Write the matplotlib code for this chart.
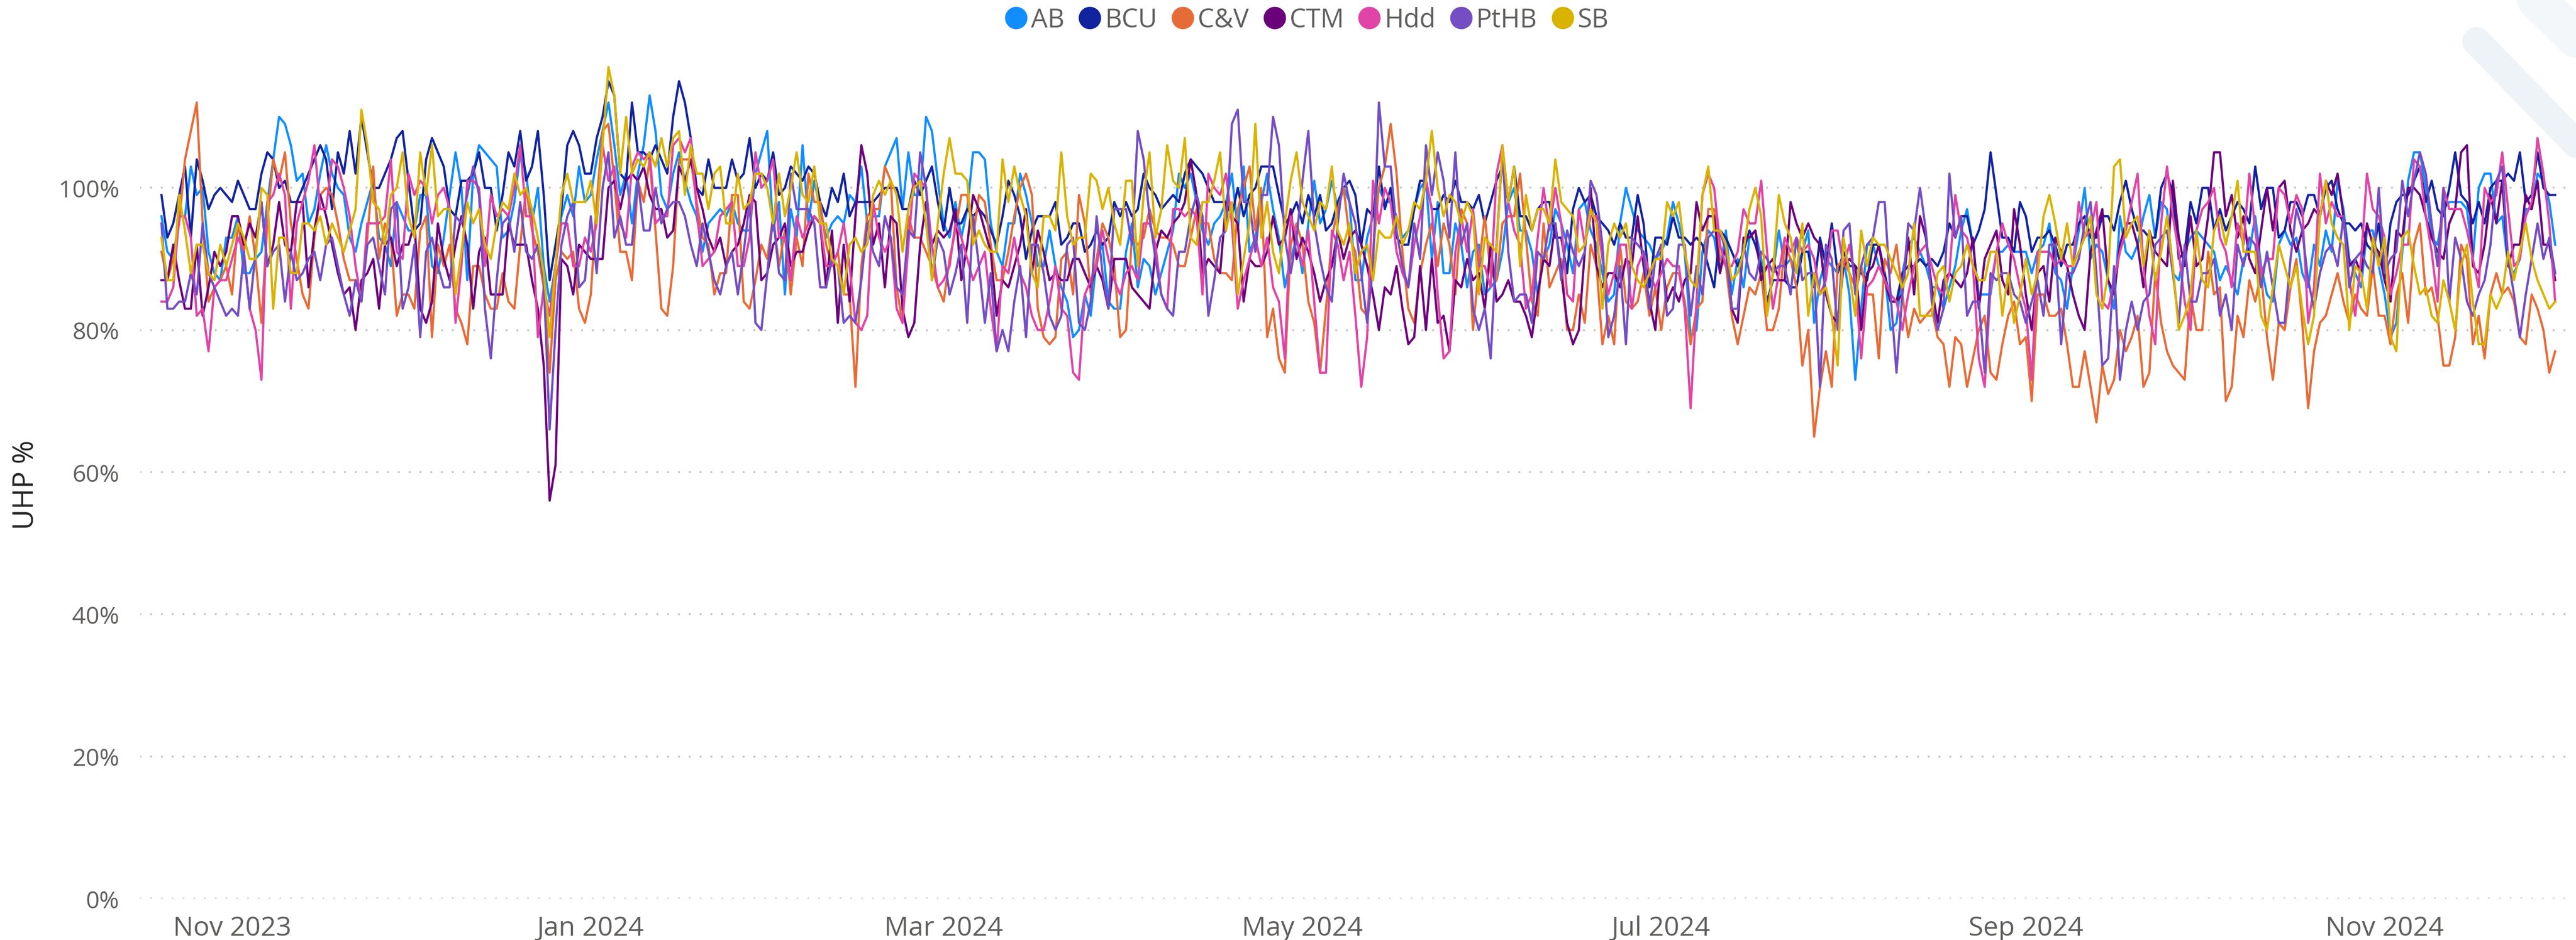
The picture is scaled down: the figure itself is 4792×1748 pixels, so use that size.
import pandas as pd
import matplotlib
matplotlib.use("Agg")
import matplotlib.pyplot as plt
import matplotlib.dates as mdates
from matplotlib.lines import Line2D
from matplotlib.ticker import FuncFormatter

plt.rcParams['font.family'] = ['Open Sans', 'DejaVu Sans']

# daily UHP % per site, starting 20 Oct 2023
start_date = "2023-10-20"
series_names = ["AB", "BCU", "C&V", "CTM", "Hdd", "PtHB", "SB"]
series_colors = ["#118DFF", "#12239E", "#E66C37", "#6B007B", "#E044A7", "#744EC2", "#D9B300"]

ab = [
    96, 91, 90, 96, 96, 103, 99, 100, 91, 88, 87, 93, 93, 96, 88, 88, 90, 91, 98, 104,
    110, 109, 106, 101, 102, 95, 97, 102, 106, 102, 100, 99, 93, 91, 95, 98, 101, 93, 92, 89,
    98, 96, 94, 94, 99, 99, 89, 88, 93, 99, 105, 100, 87, 102, 106, 105, 104, 103, 93, 94,
    98, 105, 102, 95, 100, 89, 84, 89,
    96, 99, 96, 103, 98, 99, 104, 108, 112, 106, 99, 102, 95, 102, 106, 113, 108, 99, 97, 102,
    105, 101, 98, 96, 91, 95, 96, 97, 96, 98, 95, 94, 94, 102, 105, 108, 94, 98, 85, 97,
    93, 106, 95, 101, 97, 93, 95, 96, 95, 99, 98, 103, 95, 96, 96, 103, 105, 107, 97, 105,
    99, 99, 110, 108, 101, 95, 93, 98, 93, 97, 105,
    105, 104, 95, 91, 89, 95, 95, 102, 99, 95, 89, 89, 94, 89, 86, 84, 79, 80, 85, 82,
    90, 92, 84, 83, 83, 91, 95, 86, 90, 89, 85, 88, 91, 94, 102, 100, 102, 98, 94, 92,
    95, 96, 98, 102, 94, 103, 91, 93, 98, 102, 97, 93, 86, 90, 93, 88, 95, 101, 95, 97,
    101, 97, 100, 98, 87, 87, 93, 96, 100, 98,
    98, 96, 93, 94, 97, 100, 101, 90, 98, 88, 88, 95, 92, 86, 91, 92, 85, 86, 87, 91,
    98, 100, 94, 94, 91, 85, 90, 92, 97, 95, 92, 88, 97, 98, 94, 92, 88, 84, 85, 95,
    100, 97, 94, 93, 92, 90, 91, 93, 98, 95, 91, 79, 80, 91, 94, 93, 88, 94, 85, 90,
    86, 93, 94, 90, 83, 88, 94, 89, 90, 88, 91,
    94, 81, 87, 90, 89, 88, 90, 85, 73, 83, 92, 92, 89, 88, 80, 81, 88, 92, 93, 91,
    89, 86, 86, 83, 86, 89, 94, 97, 92, 85, 85, 85, 91, 91, 92, 91, 91, 91, 88, 91,
    92, 95, 88, 87, 83, 89, 94, 100, 90, 92, 91, 87, 83, 96, 91, 90, 92, 96, 99, 93,
    98, 97, 88, 87, 91, 93, 94,
    93, 92, 91, 87, 89, 87, 85, 90, 91, 96, 89, 85, 84, 92, 94, 92, 93, 88, 86, 92,
    89, 94, 91, 101, 97, 90, 88, 86, 94, 94, 89, 85, 79, 81, 91, 101, 105, 105, 100, 93,
    92, 97, 98, 98, 98, 97, 90, 100, 102, 102, 95, 96, 89, 88, 90, 97, 97, 102, 101, 98,
    92,
]

bcu = [
    99, 93, 95, 99, 103, 93, 104, 101, 97, 99, 100, 99, 98, 101, 99, 97, 97, 102, 105, 104,
    100, 101, 98, 98, 100, 102, 104, 106, 104, 97, 105, 102, 108, 102, 110, 105, 100, 100, 102, 104,
    107, 108, 101, 94, 95, 104, 107, 105, 103, 97, 96, 101, 101, 102, 105, 100, 100, 94, 99, 105,
    103, 108, 101, 103, 108, 99, 87, 92,
    97, 106, 108, 106, 102, 102, 107, 110, 115, 113, 102, 101, 112, 105, 105, 104, 106, 104, 102, 110,
    115, 112, 107, 100, 99, 104, 100, 100, 100, 104, 101, 102, 107, 100, 102, 101, 105, 99, 100, 103,
    102, 101, 103, 102, 98, 96, 100, 98, 102, 96, 98, 98, 98, 98, 99, 100, 100, 100, 97, 97,
    101, 99, 101, 103, 98, 94, 100, 95, 95, 97, 96,
    97, 96, 94, 92, 96, 101, 99, 96, 90, 94, 96, 96, 96, 98, 92, 93, 95, 95, 91, 92,
    94, 92, 93, 98, 96, 98, 96, 97, 102, 100, 99, 97, 98, 99, 98, 102, 104, 103, 102, 100,
    98, 98, 98, 96, 100, 96, 99, 100, 103, 103, 103, 99, 95, 96, 98, 95, 99, 96, 99, 94,
    95, 98, 100, 101, 99, 92, 97, 96, 103, 97,
    100, 93, 92, 92, 97, 101, 101, 97, 97, 99, 98, 101, 98, 98, 97, 99, 95, 98, 101, 103,
    98, 103, 96, 96, 94, 97, 98, 98, 93, 93, 88, 97, 100, 98, 99, 96, 95, 94, 92, 95,
    93, 93, 99, 95, 86, 93, 93, 92, 96, 93, 93, 92, 93, 92, 89, 86, 94, 93, 91, 89,
    91, 94, 92, 89, 84, 87, 87, 87, 86, 86, 91,
    91, 86, 93, 89, 95, 88, 91, 89, 89, 88, 87, 92, 92, 88, 84, 84, 88, 89, 89, 90,
    89, 90, 89, 91, 95, 93, 96, 96, 92, 94, 97, 105, 99, 93, 93, 91, 98, 96, 91, 93,
    93, 94, 92, 89, 92, 92, 95, 96, 93, 93, 96, 96, 94, 98, 101, 97, 94, 94, 93, 93,
    100, 102, 99, 90, 91, 98, 95,
    100, 100, 94, 97, 94, 96, 98, 97, 95, 103, 97, 100, 100, 93, 94, 98, 98, 96, 99, 99,
    96, 100, 101, 97, 95, 95, 94, 95, 92, 91, 95, 87, 95, 98, 99, 99, 101, 103, 98, 101,
    97, 96, 100, 105, 99, 98, 95, 98, 95, 100, 101, 101, 102, 101, 105, 98, 99, 105, 100, 99,
    99,
]

cv = [
    91, 87, 90, 95, 104, 108, 112, 95, 84, 86, 87, 89, 85, 95, 91, 96, 90, 81, 95, 104,
    101, 105, 95, 90, 85, 83, 93, 99, 100, 99, 95, 90, 87, 87, 85, 93, 103, 90, 95, 93,
    82, 85, 85, 83, 94, 96, 79, 92, 89, 92, 83, 81, 78, 89, 89, 85, 83, 83, 88, 84,
    83, 92, 100, 94, 91, 86, 74, 87,
    91, 90, 91, 83, 81, 85, 98, 108, 109, 101, 91, 91, 87, 101, 98, 104, 94, 83, 82, 89,
    104, 104, 104, 98, 93, 92, 85, 88, 88, 99, 99, 84, 83, 87, 92, 90, 96, 89, 94, 85,
    93, 89, 102, 98, 98, 92, 89, 91, 85, 85, 72, 89, 96, 97, 97, 103, 101, 86, 81, 96,
    93, 93, 91, 89, 86, 84, 90, 94, 99, 99, 93,
    99, 98, 92, 87, 87, 91, 96, 100, 102, 99, 83, 79, 78, 79, 90, 91, 85, 99, 95, 85,
    90, 95, 93, 89, 79, 80, 93, 92, 93, 97, 94, 93, 93, 92, 89, 89, 93, 97, 95, 95,
    90, 88, 88, 87, 97, 100, 103, 94, 100, 79, 83, 76, 74, 92, 95, 92, 84, 81, 74, 83,
    93, 97, 100, 93, 91, 83, 82, 91, 100, 103,
    109, 102, 91, 83, 81, 88, 92, 95, 89, 95, 92, 85, 97, 95, 80, 89, 96, 88, 87, 95,
    96, 96, 102, 93, 84, 82, 95, 86, 88, 90, 80, 80, 85, 81, 92, 89, 78, 82, 78, 92,
    84, 83, 84, 88, 82, 86, 80, 86, 88, 88, 84, 78, 83, 84, 97, 97, 90, 89, 82, 78,
    82, 86, 85, 88, 80, 80, 83, 92, 90, 86, 75,
    80, 65, 72, 77, 72, 89, 90, 88, 86, 89, 85, 85, 76, 90, 88, 92, 85, 79, 83, 81,
    82, 83, 79, 78, 72, 79, 78, 72, 76, 80, 82, 74, 73, 78, 82, 84, 78, 79, 70, 85,
    85, 82, 82, 83, 78, 72, 72, 77, 72, 67, 75, 71, 73, 80, 77, 79, 82, 72, 74, 88,
    81, 77, 75, 74, 73, 85, 80,
    80, 91, 85, 86, 70, 72, 82, 79, 87, 84, 88, 79, 73, 81, 80, 86, 90, 81, 69, 77,
    81, 82, 85, 88, 84, 81, 85, 83, 82, 89, 82, 82, 78, 85, 88, 81, 92, 95, 85, 86,
    82, 75, 75, 79, 92, 90, 78, 82, 76, 85, 88, 85, 86, 84, 79, 78, 85, 83, 80, 74,
    77,
]

ctm = [
    87, 87, 92, 87, 83, 83, 92, 82, 86, 91, 89, 91, 96, 96, 92, 95, 93, 98, 89, 92,
    98, 92, 91, 98, 98, 86, 94, 99, 96, 92, 88, 85, 86, 80, 87, 88, 90, 83, 92, 93,
    89, 92, 92, 95, 83, 81, 84, 95, 90, 87, 92, 96, 92, 83, 91, 93, 85, 85, 85, 95,
    92, 92, 92, 87, 83, 75, 56, 61,
    90, 89, 85, 92, 91, 90, 90, 90, 100, 101, 97, 101, 102, 101, 103, 99, 97, 97, 93, 94,
    103, 101, 104, 100, 97, 93, 91, 93, 89, 91, 92, 95, 99, 98, 87, 88, 92, 93, 95, 89,
    91, 91, 94, 96, 95, 86, 94, 81, 92, 84, 96, 106, 102, 92, 95, 86, 96, 95, 83, 79,
    81, 92, 98, 92, 94, 93, 94, 97, 87, 92, 99,
    97, 94, 91, 82, 87, 86, 89, 92, 97, 88, 94, 91, 87, 88, 87, 87, 90, 90, 88, 86,
    89, 87, 83, 90, 90, 90, 86, 85, 84, 83, 91, 94, 93, 95, 96, 98, 104, 99, 88, 90,
    89, 88, 98, 96, 95, 84, 90, 89, 89, 91, 96, 92, 93, 97, 90, 93, 91, 88, 84, 87,
    89, 94, 90, 93, 94, 92, 89, 85, 80, 86,
    85, 89, 83, 78, 79, 89, 80, 90, 81, 82, 77, 87, 86, 90, 87, 88, 83, 92, 84, 85,
    87, 84, 84, 82, 79, 85, 90, 89, 95, 88, 81, 78, 80, 91, 100, 89, 86, 88, 88, 86,
    90, 89, 96, 89, 84, 80, 91, 84, 86, 84, 87, 88, 98, 94, 96, 96, 88, 92, 83, 81,
    93, 93, 94, 87, 89, 90, 87, 87, 98, 95, 93,
    95, 93, 92, 85, 82, 81, 89, 90, 89, 80, 88, 89, 92, 87, 84, 84, 85, 93, 85, 96,
    93, 86, 81, 87, 88, 87, 86, 88, 93, 83, 90, 92, 94, 87, 85, 97, 92, 85, 80, 88,
    89, 84, 93, 91, 89, 85, 82, 80, 91, 94, 97, 87, 85, 92, 95, 95, 92, 86, 94, 91,
    90, 89, 101, 93, 89, 96, 89,
    90, 96, 105, 105, 96, 99, 93, 96, 90, 88, 94, 100, 94, 100, 101, 94, 91, 94, 95, 97,
    96, 101, 99, 102, 96, 89, 90, 88, 95, 92, 91, 87, 84, 94, 93, 100, 100, 99, 96, 93,
    91, 90, 95, 97, 105, 106, 89, 88, 92, 99, 95, 101, 89, 92, 92, 99, 97, 101, 92, 92,
    87,
]

hdd = [
    84, 84, 86, 96, 96, 93, 82, 83, 77, 86, 87, 87, 90, 93, 91, 83, 80, 73, 98, 99,
    102, 99, 83, 95, 98, 101, 106, 97, 97, 104, 103, 100, 96, 89, 84, 95, 95, 95, 96, 104,
    91, 90, 102, 99, 101, 100, 95, 99, 100, 97, 81, 89, 101, 101, 100, 89, 99, 96, 97, 96,
    100, 106, 96, 96, 79, 86, 82, 89,
    95, 95, 89, 89, 93, 91, 95, 106, 101, 103, 95, 93, 103, 105, 104, 105, 95, 96, 96, 106,
    107, 105, 107, 97, 89, 90, 91, 96, 97, 98, 89, 89, 93, 105, 100, 101, 104, 93, 93, 87,
    96, 93, 95, 96, 95, 89, 89, 91, 95, 89, 81, 80, 82, 98, 93, 91, 93, 83, 81, 92,
    102, 101, 100, 92, 86, 87, 89, 95, 93, 90, 87,
    89, 91, 83, 77, 89, 88, 93, 88, 86, 82, 80, 80, 84, 89, 83, 82, 74, 73, 85, 87,
    89, 94, 90, 87, 85, 88, 89, 87, 95, 95, 92, 85, 83, 97, 97, 96, 97, 96, 85, 102,
    100, 99, 102, 95, 83, 87, 90, 93, 89, 93, 86, 84, 76, 96, 93, 89, 94, 84, 74, 74,
    94, 92, 87, 91, 82, 72, 79, 101, 95, 100,
    98, 91, 88, 86, 92, 96, 101, 97, 85, 76, 77, 91, 96, 91, 97, 89, 89, 86, 102, 106,
    98, 94, 92, 83, 85, 93, 100, 94, 100, 95, 85, 84, 97, 92, 96, 96, 90, 85, 88, 92,
    92, 83, 89, 91, 88, 86, 88, 90, 89, 89, 83, 69, 84, 99, 102, 100, 92, 89, 89, 91,
    97, 95, 95, 101, 91, 83, 88, 93, 91, 93, 91,
    92, 90, 85, 87, 94, 94, 89, 92, 87, 76, 86, 87, 89, 87, 85, 84, 80, 85, 89, 91,
    92, 89, 86, 85, 88, 99, 94, 93, 89, 76, 72, 86, 91, 95, 92, 90, 86, 83, 73, 91,
    91, 91, 89, 90, 89, 89, 98, 93, 94, 98, 84, 83, 87, 91, 94, 98, 102, 89, 82, 78,
    95, 103, 96, 91, 84, 80, 94,
    97, 98, 100, 93, 91, 86, 95, 92, 102, 94, 88, 90, 90, 100, 99, 95, 99, 97, 81, 86,
    102, 95, 98, 96, 96, 87, 82, 90, 102, 97, 96, 93, 85, 88, 92, 92, 104, 103, 96, 91,
    84, 100, 97, 97, 97, 94, 90, 86, 100, 98, 99, 105, 97, 89, 90, 96, 98, 107, 102, 95,
    84,
]

pthb = [
    95, 83, 83, 84, 84, 88, 85, 95, 88, 86, 84, 82, 83, 82, 91, 83, 91, 98, 89, 91,
    92, 84, 91, 87, 88, 90, 91, 87, 92, 93, 89, 85, 82, 87, 84, 92, 93, 89, 85, 97,
    98, 83, 86, 92, 79, 91, 93, 89, 86, 86, 96, 95, 99, 103, 99, 83, 76, 87, 95, 96,
    91, 98, 91, 90, 92, 87, 66, 80,
    92, 96, 98, 86, 87, 96, 88, 100, 105, 93, 96, 92, 92, 101, 94, 94, 100, 95, 97, 98,
    98, 96, 92, 89, 95, 91, 87, 85, 89, 91, 85, 91, 98, 81, 80, 88, 96, 88, 87, 102,
    97, 97, 97, 95, 86, 86, 90, 89, 81, 82, 81, 87, 95, 91, 89, 96, 93, 86, 85, 94,
    93, 105, 100, 87, 93, 91, 85, 88, 92, 81, 96,
    89, 81, 88, 77, 80, 77, 84, 89, 79, 92, 92, 88, 82, 80, 82, 92, 93, 81, 80, 84,
    96, 88, 83, 97, 97, 97, 92, 108, 104, 96, 90, 85, 83, 82, 91, 91, 96, 99, 96, 82,
    87, 93, 94, 109, 111, 98, 98, 91, 99, 99, 110, 106, 93, 88, 93, 101, 108, 95, 90, 86,
    84, 95, 102, 98, 95, 88, 81, 89, 112, 103,
    103, 94, 89, 86, 95, 90, 106, 99, 105, 101, 93, 105, 92, 95, 83, 80, 83, 76, 92, 105,
    91, 84, 85, 85, 81, 91, 90, 95, 95, 87, 94, 91, 89, 91, 101, 99, 92, 79, 82, 89,
    78, 93, 92, 91, 83, 90, 92, 82, 83, 92, 92, 82, 89, 85, 93, 94, 94, 91, 83, 83,
    92, 88, 87, 91, 90, 88, 89, 89, 85, 93, 87,
    88, 88, 72, 92, 90, 80, 94, 95, 85, 89, 92, 93, 98, 98, 85, 74, 85, 95, 94, 100,
    94, 84, 80, 83, 102, 93, 96, 82, 84, 84, 74, 88, 87, 88, 88, 85, 84, 81, 84, 87,
    82, 92, 92, 78, 88, 88, 90, 95, 98, 88, 75, 76, 89, 73, 80, 84, 80, 84, 85, 92,
    93, 94, 88, 81, 92, 84, 84,
    88, 88, 90, 82, 85, 80, 92, 89, 93, 92, 86, 91, 86, 81, 81, 90, 97, 94, 87, 83,
    88, 91, 92, 89, 96, 86, 90, 91, 89, 88, 100, 88, 90, 91, 101, 96, 101, 105, 102, 95,
    89, 100, 84, 93, 90, 84, 82, 85, 87, 92, 101, 103, 90, 85, 79, 85, 90, 95, 90, 93,
    88,
]

sb = [
    93, 87, 87, 99, 94, 88, 92, 92, 88, 87, 92, 89, 92, 95, 93, 90, 90, 100, 99, 83,
    93, 93, 88, 88, 95, 95, 94, 96, 92, 95, 93, 91, 94, 97, 111, 106, 98, 97, 92, 99,
    100, 105, 96, 93, 105, 99, 106, 96, 97, 97, 85, 91, 98, 95, 97, 92, 90, 95, 98, 97,
    102, 99, 100, 97, 93, 88, 79, 89,
    99, 102, 98, 98, 98, 101, 95, 106, 117, 113, 102, 110, 102, 104, 103, 105, 103, 107, 103, 107,
    108, 99, 106, 102, 102, 97, 102, 103, 95, 95, 102, 97, 98, 102, 102, 100, 95, 102, 96, 100,
    105, 99, 98, 103, 95, 95, 90, 89, 85, 92, 93, 91, 92, 99, 101, 99, 101, 99, 91, 97,
    100, 101, 95, 87, 95, 102, 107, 102, 102, 101, 92,
    94, 92, 91, 91, 104, 98, 103, 99, 96, 88, 86, 96, 96, 94, 105, 96, 92, 93, 93, 102,
    101, 97, 100, 95, 92, 101, 101, 89, 99, 105, 93, 97, 106, 101, 100, 107, 93, 92, 98, 98,
    101, 105, 94, 98, 85, 90, 95, 109, 93, 98, 91, 88, 95, 101, 105, 98, 96, 94, 98, 97,
    103, 94, 92, 95, 88, 91, 92, 87, 94, 93,
    93, 96, 92, 94, 98, 97, 101, 108, 100, 96, 99, 98, 95, 98, 96, 85, 93, 92, 91, 106,
    98, 103, 89, 99, 94, 97, 97, 95, 104, 98, 97, 96, 91, 92, 97, 95, 83, 92, 95, 93,
    95, 89, 87, 86, 88, 90, 90, 98, 96, 98, 91, 87, 86, 99, 103, 94, 94, 92, 87, 88,
    91, 97, 100, 96, 82, 88, 99, 95, 93, 88, 95,
    82, 88, 85, 86, 82, 75, 93, 88, 82, 94, 89, 93, 92, 92, 90, 88, 86, 88, 95, 82,
    82, 82, 88, 89, 84, 88, 89, 92, 89, 87, 87, 91, 91, 82, 88, 81, 85, 90, 85, 88,
    96, 99, 95, 90, 95, 89, 91, 93, 96, 85, 83, 88, 103, 104, 93, 95, 96, 89, 94, 87,
    91, 96, 89, 80, 82, 85, 94,
    87, 86, 94, 96, 92, 96, 101, 91, 91, 91, 82, 80, 86, 92, 89, 86, 89, 83, 78, 82,
    96, 101, 95, 93, 92, 80, 89, 88, 83, 93, 89, 93, 79, 77, 93, 94, 89, 85, 86, 82,
    81, 87, 84, 80, 89, 92, 84, 78, 78, 85, 83, 85, 91, 87, 91, 95, 90, 87, 85, 83,
    84,
]

all_series = [ab, bcu, cv, ctm, hdd, pthb, sb]
n_days = len(ab)
assert all(len(s) == n_days for s in all_series), [len(s) for s in all_series]
dates = pd.date_range(start_date, periods=n_days, freq="D")

W, H = 4792, 1749
fig = plt.figure(figsize=(W / 100, H / 100), dpi=100)
fig.patch.set_facecolor("white")

# faint diagonal stripes in the top right corner
fig.add_artist(Line2D([4607 / W, 4960 / W], [1 - 78 / H, 1 - 440 / H], lw=38,
                      color="#EEF3F7", solid_capstyle="round", zorder=0))
fig.add_artist(Line2D([4640 / W, 4930 / W], [1 - (-75) / H, 1 - 205 / H], lw=52,
                      color="#F4F7FA", solid_capstyle="round", zorder=0))

ax = fig.add_axes([261 / W, 1 - 1672 / H, (4785 - 261) / W, (1672 - 86) / H])
ax.set_facecolor("none")

for name, vals, col in zip(series_names, all_series, series_colors):
    ax.plot(dates, vals, color=col, lw=3.0, solid_joinstyle="round", label=name)

ax.set_ylim(0, 120)
ax.set_yticks(range(0, 101, 20))
ax.yaxis.set_major_formatter(FuncFormatter(lambda v, p: f"{v:.0f}%"))
ax.set_xlim(dates[0] - pd.Timedelta(days=3.6), dates[-1] + pd.Timedelta(days=2.9))
ax.xaxis.set_major_locator(mdates.MonthLocator(bymonth=[1, 3, 5, 7, 9, 11]))
ax.xaxis.set_major_formatter(mdates.DateFormatter("%b %Y"))

ax.grid(axis="y", color="#C8C6C4", lw=3, linestyle=(0, (0.01, 4.8)), dash_capstyle="round")
ax.grid(axis="x", visible=False)
ax.set_axisbelow(True)
for sp in ax.spines.values():
    sp.set_visible(False)

ax.tick_params(length=0, labelcolor="#605E5C")
ax.tick_params(axis="y", pad=28, labelsize=32)
ax.tick_params(axis="x", pad=22, labelsize=36)

fig.text(49 / W, 1 - 902 / H, "UHP %", rotation=90, ha="center", va="center",
         fontsize=38, color="#252423")

handles = [Line2D([], [], ls="", marker="o", markersize=29, markerfacecolor=c,
                  markeredgecolor=c) for c in series_colors]
fig.legend(handles, series_names, loc="center", bbox_to_anchor=(2431 / W, 1 - 38 / H),
           ncol=7, frameon=False, fontsize=35, labelcolor="#605E5C",
           handlelength=0.85, handletextpad=0.15, columnspacing=0.55, borderpad=0)

fig.savefig("out.png", dpi=100, facecolor="white")
